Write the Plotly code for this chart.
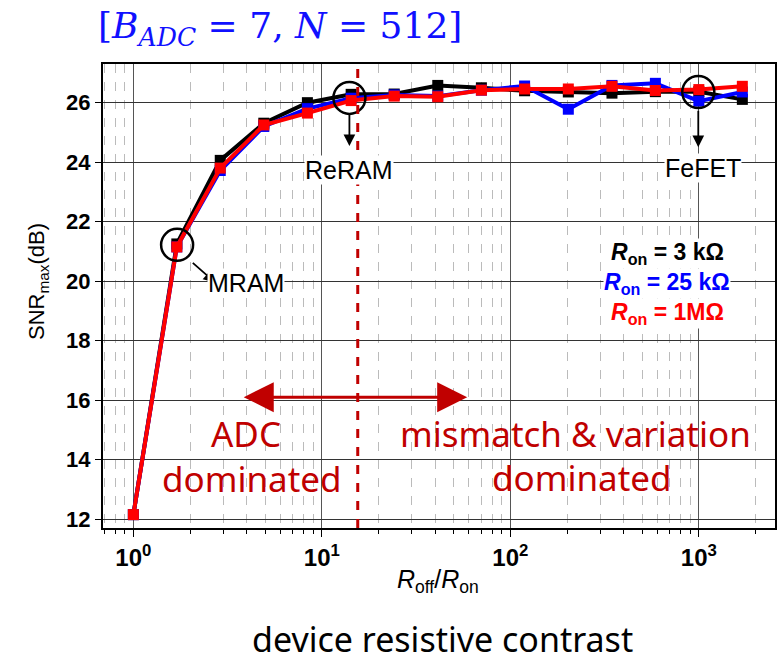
import plotly.graph_objects as go
import math

# ---- data ----
ratio = [1, 1.70, 2.89, 4.92, 8.38, 14.3, 24.2, 41.2, 70.2, 119, 203, 346, 588, 1000, 1701]
snr_3k = [12.15, 21.25, 24.06, 25.31, 26.0, 26.28, 26.29, 26.58, 26.5, 26.4, 26.36, 26.32, 26.37, 26.37, 26.11]
snr_25k = [12.15, 21.15, 23.72, 25.2, 25.8, 26.15, 26.26, 26.22, 26.42, 26.56, 25.78, 26.58, 26.65, 26.05, 26.36]
snr_1M = [12.15, 21.15, 23.8, 25.25, 25.65, 26.07, 26.22, 26.2, 26.42, 26.46, 26.46, 26.55, 26.41, 26.44, 26.55]

series_names = ["R<sub>on</sub> = 3 kΩ", "R<sub>on</sub> = 25 kΩ", "R<sub>on</sub> = 1MΩ"]
series_colors = ["#000000", "#0000ff", "#ff0000"]

x_tickvals = [1, 10, 100, 1000]
x_ticktext = ["10<sup>0</sup>", "10<sup>1</sup>", "10<sup>2</sup>", "10<sup>3</sup>"]
y_tickvals = [12, 14, 16, 18, 20, 22, 24, 26]

boundary = 15.5          # dashed divider position (Roff/Ron)
highlight_x = [1.706, 14.0, 993]      # MRAM, ReRAM, FeFET circles
highlight_y = [21.22, 26.16, 26.36]

fig = go.Figure()
for ys, name, col in zip([snr_3k, snr_25k, snr_1M], series_names, series_colors):
    fig.add_trace(go.Scatter(
        x=ratio, y=ys, mode="lines+markers", name=name,
        line=dict(color=col, width=4),
        marker=dict(symbol="square", size=11, color=col),
        showlegend=False,
    ))

# circles around highlighted points
fig.add_trace(go.Scatter(
    x=highlight_x, y=highlight_y, mode="markers", showlegend=False, hoverinfo="skip",
    marker=dict(symbol="circle-open", size=32, color="black", line=dict(color="black", width=2.5)),
))

minor_vals = []
for dec in [0.1, 1, 10, 100, 1000]:
    for m in range(2, 10):
        v = m * dec
        if 0.69 <= v <= 2500:
            minor_vals.append(v)

fig.update_layout(
    width=782, height=663,
    margin=dict(l=103, r=7, t=64, b=135),
    paper_bgcolor="white", plot_bgcolor="white",
    font=dict(family="Liberation Sans, Arial", color="black"),
    xaxis=dict(
        type="log", range=[math.log10(0.69), math.log10(2535)],
        tickvals=x_tickvals, ticktext=x_ticktext,
        tickfont=dict(size=24, family="Liberation Sans", color="black", weight="bold"),
        ticks="outside", ticklen=7, tickcolor="black",
        showgrid=True, gridcolor="#555555", gridwidth=1,
        showline=True, linecolor="black", linewidth=2, mirror=True,
        minor=dict(tickvals=minor_vals, ticks="outside", ticklen=4, tickcolor="black",
                   showgrid=True, gridcolor="#bbbbbb", griddash="dash", gridwidth=1),
        zeroline=False, automargin=False,
    ),
    yaxis=dict(
        range=[11.7, 27.3], tickvals=y_tickvals,
        tickfont=dict(size=22, family="Liberation Sans", color="black", weight="bold"),
        ticks="outside", ticklen=6, tickcolor="black",
        showgrid=True, gridcolor="#333333", gridwidth=1,
        showline=True, linecolor="black", linewidth=2, mirror=True,
        zeroline=False, automargin=False,
    ),
)

def paper_xy(px, py):
    return (px - 103) / 672, (528 - py) / 464

# axis titles
ax_x, ax_y = paper_xy(438, 581)
fig.add_annotation(xref="paper", yref="paper", x=ax_x, y=ax_y,
                   text="<i>R</i><sub>off</sub>/<i>R</i><sub>on</sub>", showarrow=False,
                   font=dict(size=25, family="Liberation Sans", color="black"),
                   xanchor="center", yanchor="middle")
ay_x, ay_y = paper_xy(38, 282)
fig.add_annotation(xref="paper", yref="paper", x=ay_x, y=ay_y, textangle=-90,
                   text="SNR<sub>max</sub>(dB)", showarrow=False,
                   font=dict(size=22, family="Liberation Sans", color="black"),
                   xanchor="center", yanchor="middle")

# dashed divider
fig.add_shape(type="line", xref="x", yref="paper", x0=boundary, x1=boundary, y0=0, y1=1,
              line=dict(color="#c00000", width=3, dash="dash"))

# black arrows
fig.add_annotation(x=math.log10(2.72), y=19.95, ax=-24, ay=-21, text="", showarrow=True,
                   arrowhead=2, arrowsize=1.3, arrowwidth=1.8, arrowcolor="black")
fig.add_annotation(x=math.log10(14.0), y=24.54, ax=0, ay=-33, text="", showarrow=True,
                   arrowhead=2, arrowsize=1.3, arrowwidth=1.8, arrowcolor="black")
fig.add_annotation(x=math.log10(993), y=24.5, ax=0, ay=-38, text="", showarrow=True,
                   arrowhead=2, arrowsize=1.3, arrowwidth=1.8, arrowcolor="black")

# device labels
for txt, px, py in [("MRAM", 246, 283), ("ReRAM", 349, 170), ("FeFET", 703, 168)]:
    lx, ly = paper_xy(px, py)
    fig.add_annotation(xref="paper", yref="paper", x=lx, y=ly,
                       text=txt, showarrow=False, font=dict(size=25, family="Liberation Sans", color="black"),
                       bgcolor="white", borderpad=0, xanchor="center", yanchor="middle")

# series legend texts
for name, col, py in zip(series_names, series_colors, [253, 283, 313]):
    lx, ly = paper_xy(667, py)
    fig.add_annotation(xref="paper", yref="paper", x=lx, y=ly,
                       text="<b><i>R</i><sub>on</sub>" + name[len("R<sub>on</sub>"):] + "</b>",
                       showarrow=False, font=dict(size=23, family="Liberation Sans", color=col),
                       bgcolor="white", borderpad=0, xanchor="center", yanchor="middle")

# red double arrow
fig.add_annotation(x=math.log10(59.0), y=16.1, ax=math.log10(3.78), ay=16.1, axref="x", ayref="y",
                   text="", showarrow=True, arrowhead=2, startarrowhead=2, arrowside="end+start",
                   arrowsize=2.0, startarrowsize=2.0, arrowwidth=3, arrowcolor="#c00000")

# region texts (one annotation per line)
for txt, px, py in [("ADC", 246, 433), ("dominated", 252, 478),
                    ("mismatch & variation", 575, 433), ("dominated", 582, 477)]:
    lx, ly = paper_xy(px, py)
    fig.add_annotation(xref="paper", yref="paper", x=lx, y=ly, text=txt, showarrow=False,
                       font=dict(size=35, family="Noto Sans", color="#c00000"),
                       xanchor="center", yanchor="middle")

# title
tx, ty = paper_xy(96, 29)
fig.add_annotation(xref="paper", yref="paper", x=tx, y=ty,
                   text="[<i>B</i><sub><i>ADC</i></sub>&nbsp;=&nbsp;7,&nbsp;<i>N</i>&nbsp;=&nbsp;512]",
                   showarrow=False,
                   font=dict(size=36, family="DejaVu Serif", color="#1010ff"),
                   xanchor="left", yanchor="middle")

# bottom caption
cx, cy = paper_xy(442, 639)
fig.add_annotation(xref="paper", yref="paper", x=cx, y=cy,
                   text="device resistive contrast", showarrow=False,
                   font=dict(size=34, family="Noto Sans", color="black"),
                   xanchor="center", yanchor="middle")

fig.write_html("out.html", config={"displayModeBar": False},
               post_script="document.body.style.margin='0';document.body.style.padding='0';")
